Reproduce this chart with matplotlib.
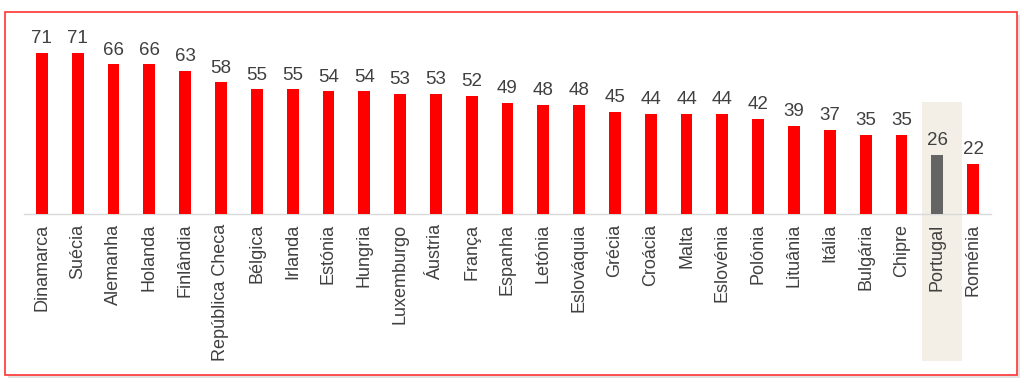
import matplotlib.pyplot as plt
from matplotlib.patches import Rectangle

plt.rcParams['font.family'] = ['Liberation Sans', 'DejaVu Sans']

paises = ["Dinamarca", "Suécia", "Alemanha", "Holanda", "Finlândia", "República Checa",
          "Bélgica", "Irlanda", "Estónia", "Hungria", "Luxemburgo", "Áustria", "França",
          "Espanha", "Letónia", "Eslováquia", "Grécia", "Croácia", "Malta", "Eslovénia",
          "Polónia", "Lituânia", "Itália", "Bulgária", "Chipre", "Portugal", "Roménia"]
valores = [71, 71, 66, 66, 63, 58, 55, 55, 54, 54, 53, 53, 52, 49, 48, 48, 45, 44, 44, 44,
           42, 39, 37, 35, 35, 26, 22]
destaque = "Portugal"

W, H = 1024, 383
fig = plt.figure(figsize=(W / 100, H / 100), dpi=100)

# red frame with a soft shadow
fig.patches.append(Rectangle((8 / W, 1 - 378 / H), 1012 / W, 363 / H, transform=fig.transFigure,
                             facecolor='#d0d0d0', edgecolor='none', zorder=0, alpha=0.6))
fig.patches.append(Rectangle((5 / W, 1 - 375 / H), 1012 / W, 363 / H, transform=fig.transFigure,
                             facecolor='white', edgecolor='#ff3333', linewidth=1.2, zorder=1))

ax = fig.add_axes([24 / W, 1 - 214 / H, (991 - 24) / W, 194 / H])
ax.set_facecolor('none')
ax.set_zorder(2)

x = list(range(len(paises)))
cores = ['#646464' if p == destaque else '#ff0000' for p in paises]
ax.bar(x, valores, width=0.33, color=cores, zorder=3)

# highlight band behind Portugal
ip = paises.index(destaque)
ax.add_patch(Rectangle((ip - 0.42, -65), 1.1, 114.5, facecolor='#f3eee6', edgecolor='none',
                       clip_on=False, zorder=1))

for xi, v in zip(x, valores):
    ax.text(xi, v + 2.5, str(v), ha='center', va='bottom', fontsize=13.5, color='#404040')

ax.set_xlim(-0.5, len(paises) - 0.5)
ax.set_ylim(0, 85.5)
ax.set_xticks(x)
ax.set_xticklabels(paises, rotation=90, fontsize=13, color='#404040')
ax.tick_params(axis='x', length=0, pad=7)
ax.set_yticks([])
for s in ['top', 'right', 'left']:
    ax.spines[s].set_visible(False)
ax.spines['bottom'].set_color('#d9d9d9')
ax.spines['bottom'].set_linewidth(1)

fig.savefig('out.png', dpi=100)
